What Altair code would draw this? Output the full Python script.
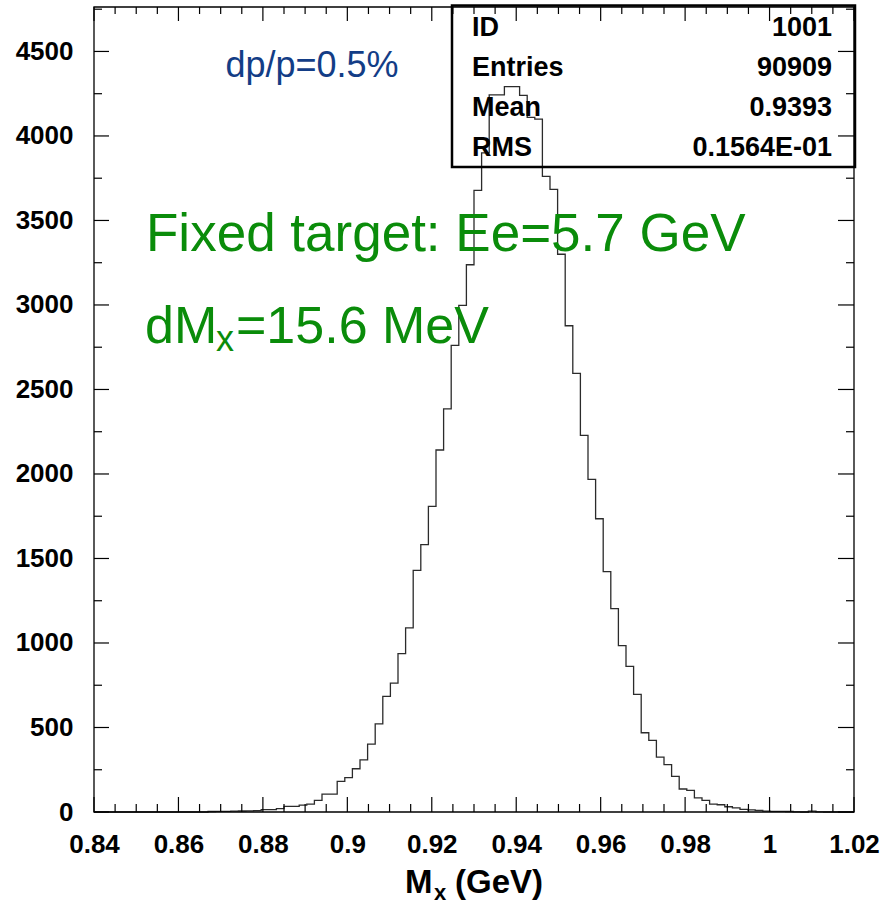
import altair as alt
import numpy as np
import pandas as pd

# Missing-mass histogram, 100 bins between 0.84 and 1.02 GeV
X_LO, X_HI, N_BINS = 0.84, 1.02, 100
counts = [
    0, 0, 0, 0, 0, 0, 0, 0, 0, 0, 0, 0, 0, 0, 0,
    3, 4, 4, 5, 6, 7, 8,
    14, 14, 20, 33, 33, 41, 47, 69, 106, 106,
    181, 203, 256, 309, 402, 522, 684, 763, 937, 1089,
    1430, 1582, 1808, 2142, 2385, 2761, 2998, 3238, 3678, 3900,
    4243, 4243, 4292, 4292, 4240, 4110, 4100, 3761, 3684, 3300,
    2877, 2595, 2228, 1968, 1735, 1422, 1203, 984, 862, 696,
    469, 424, 325, 280, 211, 136, 128, 83, 69, 47,
    43, 31, 24, 15, 12, 10, 5, 4, 4, 3,
    1, 0, 5, 1, 0, 0, 0, 0,
]
Y_MAX = 4763

x_major = [0.84, 0.86, 0.88, 0.9, 0.92, 0.94, 0.96, 0.98, 1.0, 1.02]
x_minor = [round(0.84 + 0.005 * k, 3) for k in range(37) if k % 4 != 0]
y_major = [0, 500, 1000, 1500, 2000, 2500, 3000, 3500, 4000, 4500]
y_minor = [250, 750, 1250, 1750, 2250, 2750, 3250, 3750, 4250, 4750]

stat_names = ["ID", "Entries", "Mean", "RMS"]
stat_values = ["1001", "90909", "0.9393", "0.1564E-01"]

W, H = 760, 805
FONT = "Liberation Sans"
GREEN = "#0a8c0a"
NAVY = "#133d86"

edges = np.linspace(X_LO, X_HI, N_BINS + 1)
hist = pd.DataFrame({"edge": edges, "n": counts + [counts[-1]]})

xs = alt.Scale(domain=[X_LO, X_HI], nice=False, zero=False)
ys = alt.Scale(domain=[0, Y_MAX], nice=False, zero=False)

# one shared axis definition per direction; the tick marks themselves are rules
x_axis = alt.Axis(
    values=x_major, title=None, ticks=False, tickSize=0, domain=False, grid=False,
    labelFont=FONT, labelFontWeight="bold", labelFontSize=26, labelColor="black",
    labelBaseline="alphabetic", labelPadding=40, labelFlush=False, format="~g",
)
y_axis = alt.Axis(
    values=y_major, title=None, ticks=False, tickSize=0, domain=False, grid=False,
    labelFont=FONT, labelFontWeight="bold", labelFontSize=26, labelColor="black",
    labelPadding=21, format="d",
)

histogram = alt.Chart(hist).mark_line(
    interpolate="step-after", color="#2b2b2b", strokeWidth=1.3
).encode(
    x=alt.X("edge:Q", scale=xs, axis=x_axis, title=None),
    y=alt.Y("n:Q", scale=ys, axis=y_axis, title=None),
)


def xticks(vals, y0, y1):
    return alt.Chart(pd.DataFrame({"edge": vals})).mark_rule(color="black", strokeWidth=1.2).encode(
        x=alt.X("edge:Q", scale=xs, axis=x_axis, title=None), y=alt.value(y0), y2=alt.value(y1)
    )


def yticks(vals, x0, x1):
    return alt.Chart(pd.DataFrame({"n": vals})).mark_rule(color="black", strokeWidth=1.2).encode(
        y=alt.Y("n:Q", scale=ys, axis=y_axis, title=None), x=alt.value(x0), x2=alt.value(x1)
    )


ticks = [
    xticks(x_major, H, H - 15), xticks(x_minor, H, H - 8),
    xticks(x_major, 0, 14), xticks(x_minor, 0, 7),
    yticks(y_major, 0, 15), yticks(y_minor, 0, 8),
    yticks(y_major, W, W - 16), yticks(y_minor, W, W - 8),
]


def label(text, x, y, size, color="black", weight="normal", align="left"):
    return alt.Chart(pd.DataFrame({"t": [text]})).mark_text(
        font=FONT, fontSize=size, fontWeight=weight, color=color,
        align=align, baseline="alphabetic",
    ).encode(x=alt.value(x), y=alt.value(y), text="t:N")


# statistics box in the upper right corner
box = alt.Chart(pd.DataFrame({"k": [0]})).mark_rect(
    fill=None, stroke="black", strokeWidth=2.5
).encode(x=alt.value(358), x2=alt.value(761), y=alt.value(-1.5), y2=alt.value(160))

stats = []
for i, (name, val) in enumerate(zip(stat_names, stat_values)):
    base = 29 + i * 40
    stats.append(label(name, 378, base, 27, weight="bold"))
    stats.append(label(val, 738, base, 27, weight="bold", align="right"))

notes = [
    label("dp/p=0.5%", 218, 70, 36, color=NAVY, align="center"),
    label("Fixed target: Ee=5.7 GeV", 52, 244, 53, color=GREEN),
    label("dM", 51, 336, 52, color=GREEN),
    label("x", 122, 344, 36, color=GREEN),
    label("=15.6 MeV", 142, 336, 52, color=GREEN),
]

# axis title with subscript
xtitle = [
    label("M", 311, 886, 33, weight="bold"),
    label("x", 340, 893, 22, weight="bold"),
    label("(GeV)", 361, 886, 33, weight="bold"),
]

frame = alt.Chart(pd.DataFrame({"k": [0]})).mark_rect(
    fill=None, stroke="black", strokeWidth=1.3
).encode(x=alt.value(0), x2=alt.value(W), y=alt.value(0), y2=alt.value(H))

chart = alt.layer(histogram, *ticks, frame, box, *stats, *notes, *xtitle).properties(
    width=W, height=H,
    background="white",
    autosize=alt.AutoSizeParams(type="none"),
    padding={"left": 94, "top": 7, "right": 28, "bottom": 93},
).configure_view(stroke=None)

chart.save("out.html", embed_options={"renderer": "svg", "actions": False})
